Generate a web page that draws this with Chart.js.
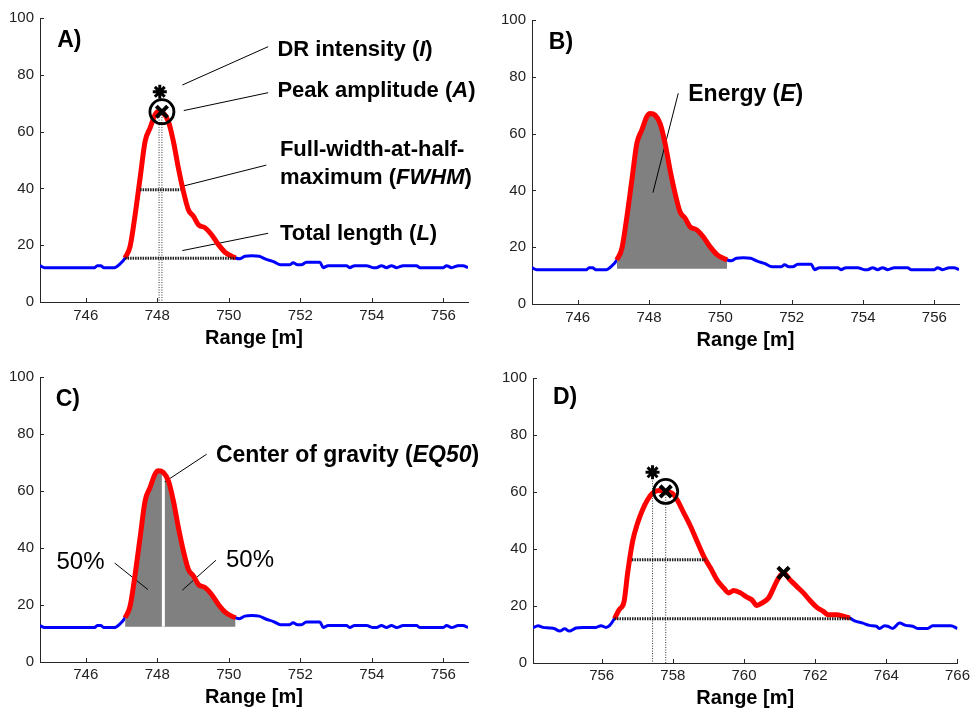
<!DOCTYPE html>
<html>
<head>
<meta charset="utf-8">
<script src="https://cdn.jsdelivr.net/npm/chart.js@4.4.1/dist/chart.umd.min.js"></script>
<style>
  html, body { margin: 0; padding: 0; background: #fff; }
  body { width: 974px; height: 710px; position: relative; overflow: hidden; }
  canvas { position: absolute; }
</style>
</head>
<body>
<canvas id="panel-b"></canvas>
<canvas id="panel-d"></canvas>
<canvas id="panel-a"></canvas>
<canvas id="panel-c"></canvas>
<script>
// Return waveform around 748 m (panels A, B, C)
const range748 = [744.72, 744.85, 746.25, 746.32, 746.42, 746.50, 746.80, 746.95, 747.10, 747.24,
  747.38, 747.52, 747.66, 747.80, 747.94, 748.03, 748.17, 748.31, 748.45, 748.59,
  748.73, 748.87, 749.01, 749.15, 749.34, 749.52, 749.71, 749.89, 750.08, 750.19,
  750.30, 750.45, 750.64, 750.85, 751.05, 751.25, 751.45, 751.70, 751.80, 751.92,
  752.03, 752.17, 752.55, 752.64, 752.78, 753.29, 753.38, 753.52, 753.85, 754.04,
  754.13, 754.27, 754.41, 754.55, 754.69, 754.88, 755.25, 755.34, 756.00, 756.09,
  756.23, 756.42, 756.55, 756.69];
const amp748 = [12.8, 12.1, 12.1, 12.8, 12.8, 12.1, 12.1, 13.3, 15.5, 19.6,
  30.7, 43.7, 56.6, 61.3, 66.0, 67.1, 66.5, 63.6, 56.6, 47.2,
  39.0, 32.5, 30.2, 27.2, 26.1, 23.7, 20.2, 17.6, 16.1, 15.5,
  15.2, 16.1, 16.3, 16.1, 15.0, 14.2, 13.1, 13.1, 13.8, 13.1,
  13.1, 14.0, 14.0, 12.1, 12.8, 12.8, 12.1, 12.8, 12.8, 12.1,
  12.1, 12.8, 12.1, 12.8, 12.1, 12.8, 12.8, 12.1, 12.1, 12.8,
  12.1, 12.8, 12.8, 12.1];
const peak748 = [747.10, 750.19];

// Return waveform around 758 m with a second peak (panel D)
const range758 = [754.07, 754.21, 754.35, 754.54, 754.68, 754.82, 754.96, 755.09, 755.28, 755.47,
  755.84, 755.98, 756.12, 756.22, 756.36, 756.49, 756.63, 756.73, 756.87, 757.01,
  757.15, 757.29, 757.43, 757.61, 757.80, 757.98, 758.12, 758.31, 758.50, 758.68,
  758.87, 759.06, 759.24, 759.43, 759.57, 759.71, 759.90, 760.08, 760.22, 760.36,
  760.50, 760.69, 760.83, 760.97, 761.11, 761.29, 761.48, 761.67, 761.85, 762.04,
  762.23, 762.37, 762.60, 762.79, 762.97, 763.11, 763.34, 763.53, 763.72, 763.81,
  763.95, 764.04, 764.18, 764.37, 764.55, 764.74, 764.88, 765.16, 765.30, 765.81,
  766.00];
const amp758 = [12.3, 13.1, 12.5, 12.3, 12.0, 11.2, 12.0, 11.2, 12.3, 12.5,
  12.5, 13.1, 12.5, 13.1, 15.6, 18.7, 21.6, 31.6, 42.7, 49.1,
  53.8, 57.3, 59.6, 60.5, 60.2, 59.6, 57.3, 52.6, 47.9, 42.7,
  37.4, 33.3, 29.2, 26.3, 24.6, 25.4, 24.6, 23.1, 22.2, 20.2,
  21.0, 22.8, 26.3, 29.8, 31.6, 29.2, 26.9, 24.6, 22.0, 19.6,
  18.1, 16.9, 16.9, 16.4, 15.8, 14.8, 14.0, 13.2, 12.9, 12.1,
  13.1, 12.9, 12.1, 14.0, 13.2, 12.9, 12.1, 12.1, 13.1, 13.1,
  12.1];
const peak758 = [756.36, 762.97];

const ampTicks = [0, 20, 40, 60, 80, 100];
const rangeTicks748 = [746, 748, 750, 752, 754, 756];
const rangeTicks758 = [756, 758, 760, 762, 764, 766];
const rangeLim748 = [744.72, 756.69];
const rangeLim758 = [754.07, 766.00];

const energyBase = 12.4;   // lower edge of the shaded energy area
const eq50 = 748.17;       // center of gravity

const FONT = "'Liberation Sans', Arial, Helvetica, sans-serif";
const AXIS = '#262626';

const pts = (xs, ys) => xs.map((x, i) => ({ x, y: ys[i] }));
const slice = (xs, ys, [a, b]) => pts(xs, ys).filter(p => p.x >= a - 1e-6 && p.x <= b + 1e-6);
const seg = ([x0, y0, x1, y1]) => [{ x: x0, y: y0 }, { x: x1, y: y1 }];

const smooth = { cubicInterpolationMode: 'monotone' };
const wave = (data) => ({ data, borderColor: '#0000ff', borderWidth: 3, order: 6, ...smooth });
const peak = (data) => ({ data, borderColor: '#ff0000', borderWidth: 5, order: 2, ...smooth });
const area = (data) => ({ data, borderWidth: 0, borderColor: 'rgba(0,0,0,0)', backgroundColor: '#808080',
  fill: { value: energyBase }, order: 5, ...smooth });
const leader = (s) => ({ data: seg(s), borderColor: '#000', borderWidth: 1, order: 3 });
const dotted = (s, w) => ({ data: seg(s), borderColor: w > 1 ? '#1e1e1e' : '#333', borderWidth: w,
  borderDash: w > 1 ? [1.5, 1] : [1, 1.5], borderCapStyle: 'butt', order: 1 });
const marker = (x, y, style, r, w) => ({ data: [{ x, y }], showLine: false, pointStyle: style,
  pointRadius: r, pointBorderWidth: w, pointBorderColor: '#000',
  pointBackgroundColor: 'rgba(0,0,0,0)', order: 0 });

const bold = (s, size = 22) => ({ runs: [[s, false]], size });

// inward tick marks + text labels, positioned through the chart scales
function makeDecor(texts) {
  return {
    id: 'panelDecor',
    afterDraw(chart) {
      const { ctx, chartArea: a, scales: { x, y } } = chart;
      ctx.save();
      ctx.strokeStyle = AXIS;
      ctx.lineWidth = 1;
      ctx.beginPath();
      x.ticks.forEach(t => {
        const px = Math.round(x.getPixelForValue(t.value)) + 0.5;
        ctx.moveTo(px, a.bottom); ctx.lineTo(px, a.bottom - 4);
      });
      y.ticks.forEach(t => {
        const py = Math.round(y.getPixelForValue(t.value)) + 0.5;
        ctx.moveTo(a.left, py); ctx.lineTo(a.left + 4, py);
      });
      ctx.stroke();
      ctx.fillStyle = '#000';
      ctx.textBaseline = 'middle';
      ctx.textAlign = 'left';
      for (const t of texts) {
        let px = x.getPixelForValue(t.x);
        const py = y.getPixelForValue(t.y);
        for (const [str, italic] of t.runs) {
          ctx.font = `${italic ? 'italic ' : ''}${t.normal ? '' : 'bold '}${t.size}px ${FONT}`;
          ctx.fillText(str, px, py);
          px += ctx.measureText(str).width;
        }
      }
      ctx.restore();
    }
  };
}

function makePanel(id, spec) {
  const cv = document.getElementById(id);
  const { box, area: ar } = spec;
  cv.width = box.w; cv.height = box.h;
  cv.style.left = box.x + 'px'; cv.style.top = box.y + 'px';
  const yW = ar.l - box.x;
  const xH = box.y + box.h - ar.b;
  new Chart(cv, {
    type: 'line',
    data: { datasets: spec.datasets },
    options: {
      responsive: false,
      animation: false,
      events: [],
      layout: { padding: { left: 0, top: ar.t - box.y, right: box.x + box.w - ar.r, bottom: 0 } },
      elements: {
        point: { radius: 0 },
        line: { tension: 0, borderJoinStyle: 'round', fill: false },
      },
      plugins: { legend: { display: false }, tooltip: { enabled: false } },
      scales: {
        x: {
          type: 'linear',
          min: spec.xLim[0], max: spec.xLim[1],
          afterBuildTicks: (s) => { s.ticks = spec.xTicks.map(v => ({ value: v })); },
          afterFit: (s) => { s.height = xH; },
          grid: { display: false, drawTicks: false },
          border: { color: AXIS, width: 1 },
          ticks: { padding: spec.tickY - ar.b - 9, color: '#222', maxRotation: 0, autoSkip: false,
            font: { family: FONT, size: 15 } },
          title: {
            display: true, text: 'Range [m]', color: '#000',
            font: { family: FONT, size: 20, weight: 'bold' },
            padding: { top: 0, bottom: Math.max(0, box.y + box.h - spec.titleY - 12) },
          },
        },
        y: {
          type: 'linear', min: 0, max: 100,
          afterBuildTicks: (s) => { s.ticks = ampTicks.map(v => ({ value: v })); },
          afterFit: (s) => { s.width = yW; },
          grid: { display: false, drawTicks: false },
          border: { color: AXIS, width: 1 },
          ticks: { padding: 6, color: '#222', font: { family: FONT, size: 15 } },
        },
      },
    },
    plugins: [makeDecor(spec.texts)],
  });
}

const full748 = pts(range748, amp748);
const red748 = slice(range748, amp748, peak748);
const full758 = pts(range758, amp758);
const red758 = slice(range758, amp758, peak758);

// A) peak descriptors
makePanel('panel-a', {
  box: { x: 0, y: 0, w: 496, h: 358 },
  area: { l: 40, t: 18, r: 468, b: 302 },
  xLim: rangeLim748, xTicks: rangeTicks748, tickY: 316, titleY: 338,
  datasets: [
    wave(full748),
    peak(red748),
    dotted([748.05, 66, 748.05, 0], 1),
    dotted([748.13, 66, 748.13, 0], 1),
    dotted([747.52, 39.5, 748.65, 39.5], 3),
    dotted([747.10, 15.4, 750.19, 15.4], 3),
    leader([748.70, 76.4, 751.10, 89.9]),
    leader([748.74, 67.4, 751.10, 73.7]),
    leader([748.72, 40.8, 751.05, 48.2]),
    leader([748.70, 18.1, 751.10, 24.2]),
    marker(748.07, 74.0, 'star', 7, 3),
    marker(748.13, 67.0, 'circle', 12, 2.8),
    marker(748.13, 67.0, 'crossRot', 8, 4),
  ],
  texts: [
    { x: 745.20, y: 92.0, ...bold('A)', 23) },
    { x: 751.36, y: 88.7, size: 22, runs: [['DR intensity (', false], ['I', true], [')', false]] },
    { x: 751.36, y: 74.4, size: 22, runs: [['Peak amplitude (', false], ['A', true], [')', false]] },
    { x: 751.43, y: 53.5, ...bold('Full-width-at-half-') },
    { x: 751.43, y: 43.6, size: 22, runs: [['maximum (', false], ['FWHM', true], [')', false]] },
    { x: 751.43, y: 23.8, size: 22, runs: [['Total length (', false], ['L', true], [')', false]] },
  ],
});

// B) energy
makePanel('panel-b', {
  box: { x: 490, y: 0, w: 484, h: 358 },
  area: { l: 532, t: 20, r: 959, b: 304 },
  xLim: rangeLim748, xTicks: rangeTicks748, tickY: 318, titleY: 340,
  datasets: [
    wave(full748),
    area(red748),
    peak(red748),
    leader([748.82, 74.2, 748.11, 39.2]),
  ],
  texts: [
    { x: 745.19, y: 92.1, ...bold('B)', 23) },
    { x: 749.10, y: 73.6, size: 23, runs: [['Energy (', false], ['E', true], [')', false]] },
  ],
});

// C) center of gravity
makePanel('panel-c', {
  box: { x: 0, y: 358, w: 496, h: 352 },
  area: { l: 40, t: 377, r: 468, b: 662 },
  xLim: rangeLim748, xTicks: rangeTicks748, tickY: 675, titleY: 697,
  datasets: [
    wave(full748),
    area(red748),
    { data: seg([eq50, energyBase, eq50, 65.5]), borderColor: '#ffffff', borderWidth: 3, borderCapStyle: 'butt', order: 4 },
    peak(red748),
    leader([749.38, 72.9, 748.21, 63.2]),
    leader([746.81, 34.7, 747.74, 25.4]),
    leader([749.64, 35.7, 748.70, 25.2]),
  ],
  texts: [
    { x: 745.16, y: 92.1, ...bold('C)', 23) },
    { x: 749.64, y: 72.5, size: 23, runs: [['Center of gravity (', false], ['EQ50', true], [')', false]] },
    { x: 745.18, y: 35.1, size: 24, normal: true, runs: [['50%', false]] },
    { x: 749.92, y: 35.7, size: 24, normal: true, runs: [['50%', false]] },
  ],
});

// D) multi-peak return
makePanel('panel-d', {
  box: { x: 490, y: 358, w: 484, h: 352 },
  area: { l: 533, t: 378, r: 960, b: 663 },
  xLim: rangeLim758, xTicks: rangeTicks758, tickY: 676, titleY: 698,
  datasets: [
    wave(full758),
    peak(red758),
    dotted([757.43, 64, 757.43, 0], 1),
    dotted([757.80, 60, 757.80, 0], 1),
    dotted([756.85, 36.2, 758.92, 36.2], 3),
    dotted([756.36, 15.5, 763.02, 15.5], 3),
    marker(757.43, 66.9, 'star', 7, 3),
    marker(757.80, 60.2, 'circle', 12, 2.8),
    marker(757.80, 60.2, 'crossRot', 8, 4),
    marker(761.11, 31.6, 'crossRot', 8, 4),
  ],
  texts: [
    { x: 754.63, y: 93.0, ...bold('D)', 23) },
  ],
});
</script>
</body>
</html>
